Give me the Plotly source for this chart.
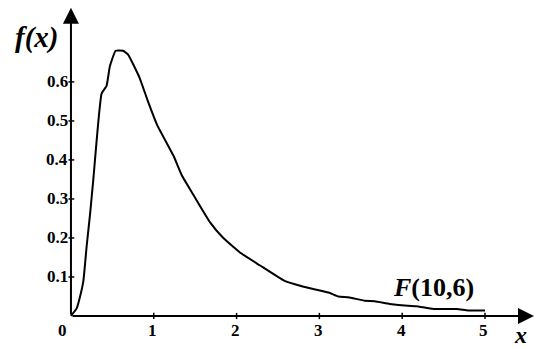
import plotly.graph_objects as go

x_vals = [0.0, 0.07, 0.11, 0.15, 0.19, 0.23, 0.27, 0.37, 0.43, 0.47, 0.54, 0.63,
          0.69, 0.83, 0.93, 1.04, 1.24, 1.34, 1.48, 1.68, 1.84, 2.06, 2.28, 2.58,
          2.81, 3.11, 3.23, 3.35, 3.55, 3.67, 3.85, 4.07, 4.17, 4.38, 4.66, 4.80, 5.0]
f_vals = [0.0, 0.02, 0.05, 0.09, 0.18, 0.26, 0.35, 0.57, 0.59, 0.64, 0.68, 0.68,
          0.67, 0.61, 0.55, 0.49, 0.41, 0.36, 0.31, 0.24, 0.20, 0.16, 0.13, 0.09,
          0.075, 0.06, 0.05, 0.048, 0.039, 0.038, 0.031, 0.026, 0.025, 0.018, 0.018,
          0.014, 0.014]

x_ticks = [0, 1, 2, 3, 4, 5]
x_tick_text = ["0", "1", "2", "3", "4", "5"]
y_ticks = [0.1, 0.2, 0.3, 0.4, 0.5, 0.6]
y_tick_text = ["0.1", "0.2", "0.3", "0.4", "0.5", "0.6"]

W, H = 534, 347
X_RANGE = [-0.857, 5.592]
Y_RANGE = [-0.0795, 0.810]
SERIF = "Times New Roman, DejaVu Serif Condensed, DejaVu Serif"

fig = go.Figure()
fig.add_trace(go.Scatter(x=x_vals, y=f_vals, mode="lines",
                         line=dict(color="black", width=2, shape="spline", smoothing=0.4),
                         hoverinfo="skip"))

shapes = []
annotations = []

# axes drawn as arrows from the origin
annotations.append(dict(x=X_RANGE[1], y=0, ax=0, ay=0, xref="x", yref="y",
                        axref="x", ayref="y", text="", showarrow=True,
                        arrowhead=2, arrowsize=1.6, arrowwidth=2, arrowcolor="black"))
annotations.append(dict(x=0, y=0.79, ax=0, ay=0, xref="x", yref="y",
                        axref="x", ayref="y", text="", showarrow=True,
                        arrowhead=2, arrowsize=1.6, arrowwidth=2, arrowcolor="black"))

tick_font = dict(family=SERIF, size=17, color="black")

# x ticks and labels
for v, t in zip(x_ticks, x_tick_text):
    if v != 0:
        shapes.append(dict(type="line", xref="x", yref="y", x0=v, x1=v,
                           y0=-0.008, y1=0.008, line=dict(color="black", width=1.5)))
    annotations.append(dict(x=v, y=0, xref="x", yref="y", text="<b>%s</b>" % t,
                            showarrow=False, yanchor="top", yshift=-3,
                            xshift=-8 if v == 0 else -1, font=tick_font))

# y ticks and labels
for v, t in zip(y_ticks, y_tick_text):
    shapes.append(dict(type="line", xref="x", yref="y", x0=-0.03, x1=0.04,
                       y0=v, y1=v, line=dict(color="black", width=1.5)))
    annotations.append(dict(x=0, y=v, xref="x", yref="y", text="<b>%s</b>" % t,
                            showarrow=False, xanchor="right", xshift=-1,
                            font=tick_font))

# axis titles and curve label
annotations.append(dict(x=-0.42, y=0.715, xref="x", yref="y",
                        text="<b><i>f(x)</i></b>", showarrow=False,
                        font=dict(family=SERIF, size=29, color="black")))
annotations.append(dict(x=5.43, y=-0.048, xref="x", yref="y",
                        text="<b><i>x</i></b>", showarrow=False,
                        font=dict(family=SERIF, size=24, color="black")))
annotations.append(dict(x=4.38, y=0.072, xref="x", yref="y",
                        text="<b><i>F</i>(10,6)</b>", showarrow=False,
                        font=dict(family=SERIF, size=26, color="black")))

fig.update_layout(
    width=W, height=H,
    margin=dict(l=0, r=0, t=0, b=0),
    paper_bgcolor="white", plot_bgcolor="white",
    showlegend=False,
    xaxis=dict(range=X_RANGE, visible=False, fixedrange=True),
    yaxis=dict(range=Y_RANGE, visible=False, fixedrange=True),
    shapes=shapes, annotations=annotations,
)

fig.write_html("out.html")
